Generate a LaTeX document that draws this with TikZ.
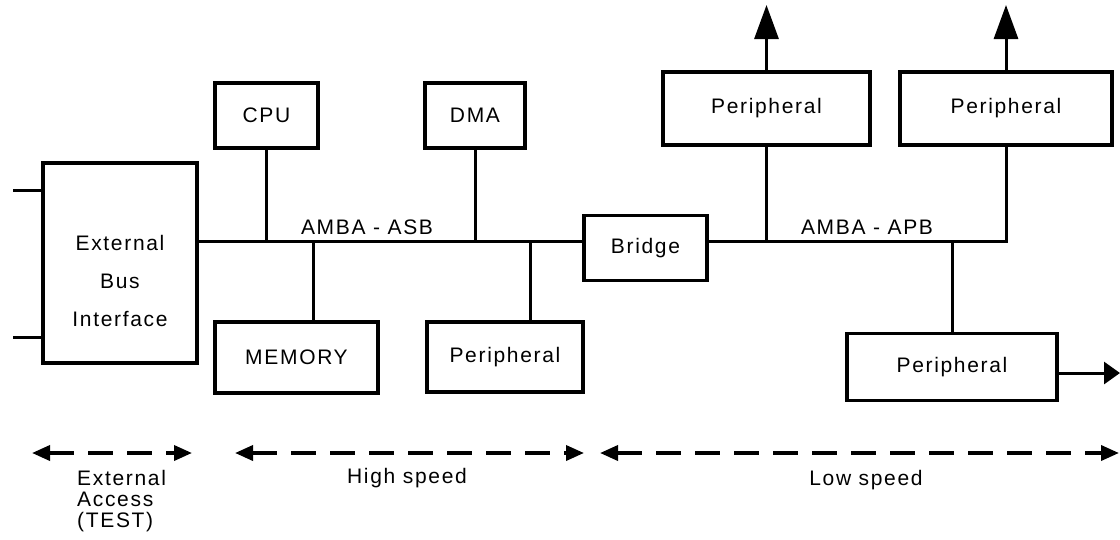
\documentclass[tikz,border=0pt]{standalone}
\usepackage{fontspec}
\setmainfont{Liberation Sans}[LetterSpace=8]
\usetikzlibrary{arrows.meta}
\begin{document}
\begin{tikzpicture}[x=1pt,y=-1pt,
    blk/.style={draw,line width=3.4pt,rectangle,inner sep=0pt,font=\fontsize{21}{24}\selectfont},
    wire/.style={line width=3pt},
    outarrow/.style={wire,-{Triangle[length=34pt,width=24pt]}},
    sidearrow/.style={wire,-{Triangle[length=16pt,width=22pt]}},
    speedspan/.style={line width=3.6pt,dash pattern=on 25pt off 14pt,
        {Triangle[length=18pt,width=15pt]}-{Triangle[length=18pt,width=15pt]}},
    lbl/.style={font=\fontsize{21}{24}\selectfont}]
\useasboundingbox (0,0) rectangle (1120,539);

% bus level
\coordinate (bus) at (0,241);

% AMBA-ASB side (the strut sets the label block a little low in the box)
\node[blk,minimum width=154pt,minimum height=200pt,align=center] (ext) at (120,263)
  {\rule{0pt}{51pt}External\\[14pt]Bus\\[14pt]Interface};
\node[blk,minimum width=103pt,minimum height=65pt] (cpu) at (266.5,115.5) {CPU};
\node[blk,minimum width=100pt,minimum height=65pt] (dma) at (475,115.5) {DMA};
\node[blk,minimum width=163pt,minimum height=71pt] (mem) at (296.5,357.5) {MEMORY};
\node[blk,minimum width=156pt,minimum height=70pt] (perh) at (505,357) {Peripheral};
\node[blk,minimum width=123pt,minimum height=65pt] (bridge) at (645.5,248) {Bridge};

% AMBA-APB side
\node[blk,minimum width=207pt,minimum height=73pt] (pert1) at (766.5,108.5) {Peripheral};
\node[blk,minimum width=212pt,minimum height=73pt] (pert2) at (1006,108.5) {Peripheral};
\node[blk,minimum width=210pt,minimum height=67pt] (perb) at (952,367) {Peripheral};

% external stubs
\coordinate (stubA) at (13,190);
\coordinate (stubB) at (13,337);
\draw[wire] (stubA) -- (stubA -| ext.west);
\draw[wire] (stubB) -- (stubB -| ext.west);

% ASB bus and taps
\draw[wire] (ext.east |- bus) -- (bridge.west |- bus);
\draw[wire] (cpu.south) -- (cpu.south |- bus);
\draw[wire] (dma.south) -- (dma.south |- bus);
\coordinate (memtap) at (313,241);
\draw[wire] (memtap) -- (memtap |- mem.north);
\coordinate (perhtap) at (530,241);
\draw[wire] (perhtap) -- (perhtap |- perh.north);
\node[lbl] (asb) at (367,227) {AMBA - ASB};

% APB bus and taps
\draw[wire] (bridge.east |- bus) -- (pert2.south |- bus) -- (pert2.south);
\draw[wire] (pert1.south) -- (pert1.south |- bus);
\draw[wire] (perb.north) -- (perb.north |- bus);
\node[lbl] (apb) at (867,227) {AMBA - APB};

% outgoing signals
\coordinate (up1) at (766.5,5);
\coordinate (up2) at (1006,5);
\draw[outarrow] (pert1.north) -- (up1);
\draw[outarrow] (pert2.north) -- (up2);
\coordinate (rgt) at (1120,373);
\draw[sidearrow] (perb.east |- rgt) -- (rgt);

% speed domains
\coordinate (s1a) at (32,453);
\coordinate (s1b) at (192,453);
\coordinate (s2a) at (235,453);
\coordinate (s2b) at (584,453);
\coordinate (s3a) at (600,453);
\coordinate (s3b) at (1119,453);
\draw[speedspan] (s1a) -- (s1b);
\draw[speedspan] (s2a) -- (s2b);
\draw[speedspan] (s3a) -- (s3b);

\node[lbl,anchor=north west,align=left,inner sep=0pt] (acc) at (77,470)
  {External\\[-3pt]Access\\[-3pt](TEST)};
\node[lbl] (hs) at (407,478) {High speed};
\node[lbl] (ls) at (866,480) {Low speed};
\end{tikzpicture}
\end{document}
